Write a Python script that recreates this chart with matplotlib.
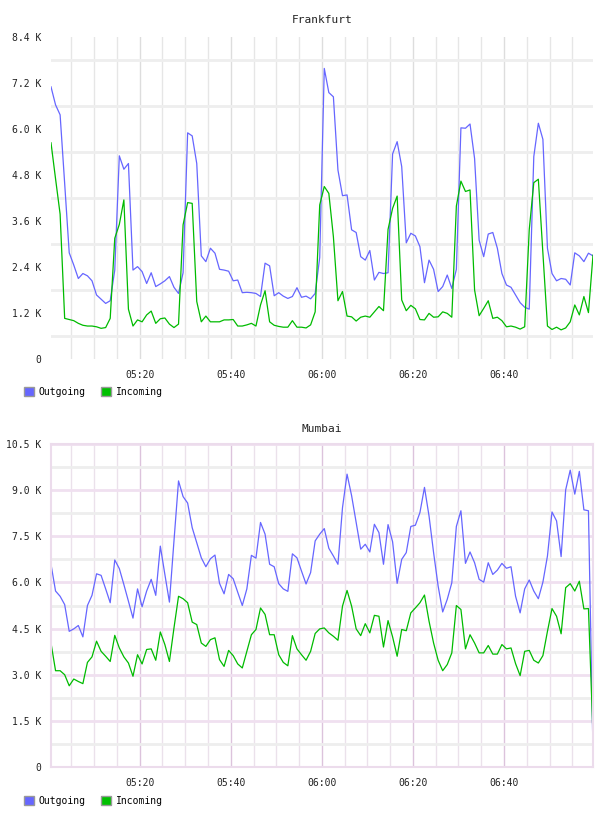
import matplotlib
matplotlib.use("Agg")
import matplotlib.pyplot as plt
import matplotlib.dates as mdates
from matplotlib.patches import Patch
from matplotlib.ticker import MultipleLocator, FuncFormatter
import pandas as pd

# ==[0] Data (values in thousands, one sample per minute)

times = pd.date_range("2024-01-01 05:00:32", periods=120, freq="min")

fra_out = [7.10, 6.63, 6.37, 4.58, 2.77, 2.45, 2.10, 2.23, 2.17, 2.04,
           1.67, 1.56, 1.45, 1.52, 2.32, 5.30, 4.95, 5.10, 2.32, 2.41,
           2.28, 1.97, 2.25, 1.89, 1.96, 2.04, 2.15, 1.87, 1.71, 2.25,
           5.90, 5.82, 5.10, 2.69, 2.54, 2.89, 2.76, 2.34, 2.32, 2.29,
           2.04, 2.06, 1.73, 1.74, 1.73, 1.71, 1.63, 2.50, 2.43, 1.65,
           1.73, 1.64, 1.58, 1.63, 1.86, 1.61, 1.64, 1.57, 1.71, 2.65,
           7.58, 6.95, 6.84, 4.93, 4.26, 4.28, 3.37, 3.30, 2.67, 2.58,
           2.83, 2.06, 2.26, 2.23, 2.25, 5.35, 5.67, 5.02, 3.03, 3.28,
           3.21, 2.93, 1.99, 2.58, 2.34, 1.76, 1.89, 2.19, 1.84, 2.34,
           6.03, 6.02, 6.13, 5.23, 3.10, 2.67, 3.26, 3.30, 2.89, 2.23,
           1.93, 1.87, 1.67, 1.47, 1.35, 1.30, 5.28, 6.15, 5.73, 2.89,
           2.23, 2.04, 2.10, 2.08, 1.93, 2.77, 2.69, 2.54, 2.76, 2.69]

fra_in = [5.64, 4.70, 3.78, 1.06, 1.03, 1.00, 0.93, 0.88, 0.86, 0.86,
          0.84, 0.80, 0.82, 1.06, 3.15, 3.51, 4.15, 1.30, 0.86, 1.02,
          0.97, 1.15, 1.25, 0.93, 1.05, 1.07, 0.91, 0.82, 0.91, 3.50,
          4.08, 4.06, 1.50, 0.97, 1.12, 0.97, 0.97, 0.97, 1.02, 1.02,
          1.03, 0.86, 0.86, 0.89, 0.93, 0.86, 1.41, 1.78, 0.97, 0.88,
          0.85, 0.83, 0.83, 1.00, 0.83, 0.83, 0.81, 0.89, 1.23, 4.02,
          4.50, 4.32, 3.19, 1.52, 1.76, 1.12, 1.10, 0.99, 1.09, 1.12,
          1.09, 1.23, 1.37, 1.26, 3.38, 3.93, 4.25, 1.54, 1.26, 1.40,
          1.31, 1.03, 1.02, 1.19, 1.09, 1.10, 1.23, 1.19, 1.09, 3.99,
          4.64, 4.37, 4.41, 1.80, 1.13, 1.32, 1.52, 1.06, 1.09, 1.00,
          0.84, 0.86, 0.83, 0.78, 0.84, 3.37, 4.60, 4.69, 2.76, 0.86,
          0.77, 0.83, 0.76, 0.81, 0.97, 1.41, 1.15, 1.63, 1.21, 2.71]

mum_out = [6.59, 5.72, 5.55, 5.28, 4.41, 4.49, 4.60, 4.23, 5.25, 5.58,
           6.28, 6.23, 5.79, 5.34, 6.73, 6.45, 5.93, 5.39, 4.84, 5.79,
           5.21, 5.72, 6.10, 5.58, 7.18, 6.26, 5.36, 7.35, 9.30, 8.79,
           8.58, 7.78, 7.29, 6.80, 6.51, 6.77, 6.89, 5.97, 5.63, 6.26,
           6.12, 5.68, 5.25, 5.79, 6.88, 6.79, 7.95, 7.57, 6.59, 6.51,
           5.96, 5.79, 5.71, 6.93, 6.80, 6.37, 5.95, 6.32, 7.35, 7.57,
           7.75, 7.11, 6.86, 6.59, 8.43, 9.52, 8.82, 7.95, 7.08, 7.24,
           6.99, 7.89, 7.62, 6.59, 7.88, 7.32, 5.97, 6.75, 6.97, 7.82,
           7.86, 8.27, 9.09, 8.16, 6.97, 5.88, 5.04, 5.45, 5.99, 7.82,
           8.33, 6.62, 6.99, 6.64, 6.10, 6.01, 6.64, 6.26, 6.40, 6.62,
           6.46, 6.51, 5.55, 5.01, 5.79, 6.08, 5.72, 5.47, 6.01, 6.86,
           8.29, 8.00, 6.84, 9.01, 9.65, 8.87, 9.61, 8.36, 8.33, 0.50]

mum_in = [4.03, 3.13, 3.13, 3.00, 2.64, 2.86, 2.78, 2.71, 3.40, 3.58,
          4.09, 3.76, 3.60, 3.43, 4.28, 3.87, 3.58, 3.38, 2.95, 3.65,
          3.35, 3.82, 3.84, 3.47, 4.39, 3.98, 3.43, 4.52, 5.55, 5.47,
          5.34, 4.71, 4.63, 4.03, 3.92, 4.14, 4.20, 3.49, 3.27, 3.79,
          3.62, 3.35, 3.22, 3.76, 4.30, 4.47, 5.17, 4.96, 4.30, 4.30,
          3.65, 3.40, 3.29, 4.27, 3.84, 3.65, 3.47, 3.76, 4.34, 4.49,
          4.52, 4.36, 4.25, 4.12, 5.23, 5.74, 5.23, 4.49, 4.27, 4.66,
          4.36, 4.93, 4.90, 3.90, 4.76, 4.23, 3.60, 4.47, 4.43, 5.01,
          5.17, 5.34, 5.59, 4.74, 4.03, 3.47, 3.13, 3.33, 3.71, 5.25,
          5.12, 3.84, 4.30, 4.03, 3.71, 3.71, 3.95, 3.67, 3.67, 3.98,
          3.84, 3.87, 3.36, 2.97, 3.76, 3.79, 3.47, 3.38, 3.62, 4.41,
          5.15, 4.90, 4.33, 5.83, 5.96, 5.72, 6.04, 5.14, 5.15, 1.04]

series_names = ["Outgoing", "Incoming"]
titles = ["Frankfurt", "Mumbai"]

# ==[1] Styles

BLUE = "#6666ff"
GREEN = "#00bb00"
MONO = "DejaVu Sans Mono"
W, H = 608, 816

fig = plt.figure(figsize=(W / 100, H / 100), dpi=100)


def kfmt(v, pos):
    return "0" if abs(v) < 1e-9 else f"{v:.1f} K"


def setup(ax, step, ymax, hgrid, hgrid_mid, vgrid_major, vgrid_minor, spine=None):
    ax.set_xlim(times[0], times[-1])
    ax.set_ylim(0, ymax)
    ax.yaxis.set_major_locator(MultipleLocator(step))
    ax.yaxis.set_minor_locator(MultipleLocator(step, offset=step / 2))
    ax.yaxis.set_major_formatter(FuncFormatter(kfmt))
    ax.xaxis.set_major_locator(mdates.MinuteLocator(byminute=[0, 20, 40]))
    ax.xaxis.set_minor_locator(mdates.MinuteLocator(byminute=range(5, 60, 5)))
    ax.xaxis.set_major_formatter(mdates.DateFormatter("%H:%M"))
    ax.tick_params(which="both", length=0)
    ax.tick_params(axis="y", pad=7)
    ax.tick_params(axis="x", pad=8)
    for lab in ax.get_xticklabels() + ax.get_yticklabels():
        lab.set_fontfamily(MONO)
        lab.set_fontsize(7)
        lab.set_color("#222222")
    if hgrid:
        ax.grid(which="major", axis="y", color=hgrid, lw=2)
    ax.grid(which="minor", axis="y", color=hgrid_mid, lw=2)
    ax.grid(which="major", axis="x", color=vgrid_major, lw=1)
    ax.grid(which="minor", axis="x", color=vgrid_minor, lw=1)
    ax.set_axisbelow(True)
    for s in ax.spines.values():
        if spine:
            s.set_color(spine)
            s.set_linewidth(1.5)
        else:
            s.set_visible(False)


# ==[2] Frankfurt

ax1 = fig.add_axes([51 / W, 1 - 359 / H, 542 / W, 322 / H])
ax1.plot(times, fra_out, color=BLUE, lw=0.9)
ax1.plot(times, fra_in, color=GREEN, lw=0.9)
setup(ax1, 1.2, 8.4, None, "#eeeeee", "#dddddd", "#e6e6e6")
fig.text(322 / W, 1 - 20 / H, titles[0], ha="center", va="center",
         family=MONO, fontsize=8, color="#222222")

# ==[3] Mumbai

ax2 = fig.add_axes([51 / W, 1 - 767 / H, 542 / W, 323 / H])
ax2.plot(times, mum_out, color=BLUE, lw=0.9)
ax2.plot(times, mum_in, color=GREEN, lw=0.9)
setup(ax2, 1.5, 10.5, "#f0e0f0", "#eeeeee", "#dcc3dc", "#ebe1eb", spine="#ecdcec")
fig.text(322 / W, 1 - 429 / H, titles[1], ha="center", va="center",
         family=MONO, fontsize=8, color="#222222")

# ==[4] Legends under each chart

for ypix in (392, 801):
    handles = [Patch(facecolor=BLUE, edgecolor="#999999", label=series_names[0]),
               Patch(facecolor="#00c000", edgecolor="#999999", label=series_names[1])]
    fig.legend(handles=handles, loc="center left", bbox_to_anchor=(24 / W, 1 - ypix / H),
               ncol=2, frameon=False, prop={"family": MONO, "size": 7},
               handlelength=1.0, handleheight=1.0, handletextpad=0.5,
               columnspacing=1.6, borderaxespad=0, borderpad=0)

fig.savefig("out.png", dpi=100)
